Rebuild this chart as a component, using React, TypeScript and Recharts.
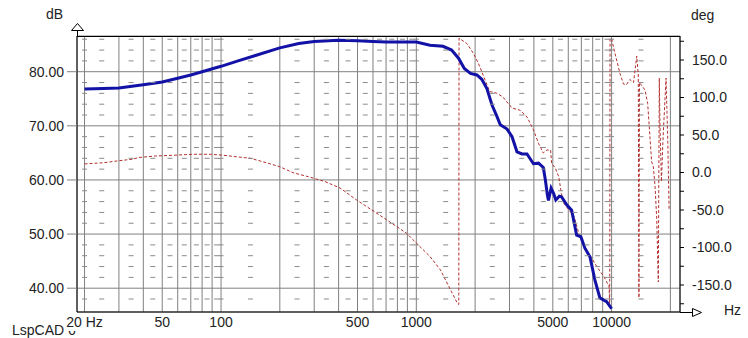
import React from 'react'
import { CartesianGrid, ComposedChart, Line, Scatter, XAxis, YAxis } from 'recharts'

// frequency grid (Hz) and labelled ticks
const gridFreqs = [
  20, 30, 40, 50, 60, 70, 80, 90, 100, 200, 300, 400, 500, 600, 700, 800, 900, 1000,
  2000, 3000, 4000, 5000, 6000, 7000, 8000, 9000, 10000, 20000,
]
const freqLabels: Record<number, string> = {
  20: '20 Hz',
  50: '50',
  100: '100',
  500: '500',
  1000: '1000',
  5000: '5000',
  10000: '10000',
}
const dbTicks = [40, 50, 60, 70, 80]
const degTicks = [-175, -150, -125, -100, -75, -50, -25, 0, 25, 50, 75, 100, 125, 150, 175]
const minorDb = [38, 42, 44, 46, 48, 52, 54, 56, 58, 62, 64, 66, 68, 72, 74, 76, 78, 82, 84, 86]

// SPL magnitude (blue)
const magFreq = [
  20, 25, 30, 35, 40, 50, 60, 70, 80, 100, 120, 150, 200, 250, 300, 400, 500, 600, 700, 800,
  1000, 1175, 1370, 1516, 1645, 1761, 1893, 2041, 2164, 2298, 2438, 2590, 2691, 2915, 3091,
  3277, 3477, 3687, 3979, 4222, 4470, 4580, 4700, 4750, 4900, 5050, 5180, 5400, 5540, 5890,
  6245, 6620, 6960, 7300, 7745, 8215, 8710, 9430, 10000,
]
const magDb = [
  76.8, 76.9, 77.0, 77.3, 77.6, 78.1, 78.8, 79.4, 80.0, 81.0, 81.9, 83.0, 84.4, 85.2, 85.6,
  85.8, 85.7, 85.6, 85.5, 85.5, 85.5, 84.9, 84.7, 84.0, 82.5, 80.6, 79.7, 79.4, 78.6, 76.9,
  73.9, 71.7, 70.2, 69.4, 68.0, 65.2, 64.8, 64.8, 63.0, 63.1, 62.3, 60.0, 57.0, 56.2, 58.5,
  57.5, 56.3, 57.0, 56.9, 55.4, 54.4, 49.8, 49.5, 47.4, 45.8, 41.5, 38.2, 37.5, 36.2,
]

// phase (red dashed)
const phaseFreq = [
  20, 25, 30, 35, 38, 46, 57, 72, 88, 100, 120, 141, 171, 200, 234, 280, 340, 407, 495, 558,
  707, 891, 1000, 1175, 1330, 1500, 1620, 1650, 1655, 1815, 1959, 2075, 2198, 2374, 2565,
  2768, 3091, 3400, 3688, 3979, 4222, 4470, 4663, 4870, 4935, 5150, 5370, 5530, 5690, 6430,
  6870, 7450, 8420, 9140, 9700, 9780, 9820, 10000, 10400, 11040, 11500, 11900, 12400, 12950,
  13450, 13700, 13800, 13900, 14830, 15300, 16040, 16350, 16680, 17020, 17350, 17550, 17700,
  18000, 18300, 19000, 19400, 19700,
]
const phaseDeg = [
  11.5, 13, 15.7, 17.6, 20, 22, 23, 24.3, 24.3, 23.3, 21, 19, 13, 7.7, -0.3, -5.6, -12, -20.7,
  -36.7, -45.6, -63.3, -81, -94, -112, -130, -157, -174, -176, 179, 172, 159, 146, 130, 108,
  106, 101, 86, 83, 74, 57, 39, 26, 30, 30, 12, 6, -6, -28, -41, -59, -86, -103, -126, -139,
  -152, -178, 179, 178, 159, 132, 118, 117, 124, 120, 155, 130, -167, 120, 110, 92, 14, 8, -17,
  -61, -146, 126, 60, -12, 40, 126, 40, -50,
]

const magData = magFreq.map((f, i) => ({ f, db: magDb[i] }))
const phaseData = phaseFreq.map((f, i) => ({ f, deg: phaseDeg[i] }))

// short dashes of the minor grid sit between the frequency lines
const dashFreqs = [20, 100, 1000, 10000]
for (let i = 0; i < gridFreqs.length - 1; i++) {
  dashFreqs.push(Math.sqrt(gridFreqs[i] * gridFreqs[i + 1]))
}
const minorData: { f: number; db: number }[] = []
minorDb.forEach((db) => dashFreqs.forEach((f) => minorData.push({ f, db })))

const font = '"Liberation Sans", Arial, sans-serif'

const FreqTick = ({ x, y, payload }: any) => {
  const label = freqLabels[payload.value]
  if (!label) return null
  return (
    <g>
      {payload.value === 20 && <rect x={x - 18} y={y - 2} width={36} height={16} fill="#fff" />}
      <text x={x} y={y} dy="0.71em" textAnchor="middle" fontSize={14} fill="#222" fontFamily={font}>
        {label}
      </text>
    </g>
  )
}

const MinorDash = ({ cx, cy }: any) => (
  <line x1={cx - 2.5} x2={cx + 2.5} y1={cy} y2={cy} stroke="#8a8a8a" strokeWidth={1} />
)

const label = (text: string, left: number, top: number) => (
  <div
    style={{
      position: 'absolute',
      left,
      top,
      fontFamily: font,
      fontSize: 14,
      color: '#222',
      lineHeight: '16px',
      whiteSpace: 'nowrap',
    }}
  >
    {text}
  </div>
)

export default function App() {
  return (
    <div style={{ position: 'absolute', left: 0, top: 0, width: 748, height: 338, background: '#fff' }}>
      {label('LspCAD 6', 12, 322)}
      <div style={{ position: 'absolute', left: 0, top: 0 }}>
        <ComposedChart
          width={748}
          height={338}
          data={magData}
          margin={{ top: 36, right: 0, bottom: 0, left: 0 }}
        >
          <CartesianGrid yAxisId="left" stroke="#808080" strokeWidth={1} />
          <XAxis
            dataKey="f"
            type="number"
            scale="log"
            domain={[18.3, 22400]}
            allowDataOverflow
            ticks={gridFreqs}
            interval={0}
            height={26}
            tickSize={0}
            tickMargin={5}
            tickLine={false}
            axisLine={{ stroke: '#000' }}
            tick={<FreqTick />}
          />
          <YAxis
            yAxisId="left"
            domain={[35.6, 86.6]}
            allowDataOverflow
            ticks={dbTicks}
            width={77}
            tickSize={10}
            tickMargin={3}
            tickLine={{ stroke: '#808080' }}
            axisLine={{ stroke: '#000' }}
            tickFormatter={(v: number) => v.toFixed(2)}
            tick={{ fontSize: 14, fill: '#222', fontFamily: font }}
          />
          <YAxis
            yAxisId="right"
            orientation="right"
            domain={[-186, 182]}
            allowDataOverflow
            ticks={degTicks}
            interval={0}
            width={68}
            tickSize={4}
            tickMargin={8}
            tickLine={{ stroke: '#000' }}
            axisLine={{ stroke: '#000' }}
            tickFormatter={(v: number) => (v % 50 === 0 ? v.toFixed(1) : '')}
            tick={{ fontSize: 14, fill: '#222', fontFamily: font, textAnchor: 'start' }}
          />
          <Scatter
            yAxisId="left"
            data={minorData}
            dataKey="db"
            shape={<MinorDash />}
            isAnimationActive={false}
            legendType="none"
          />
          <Line
            yAxisId="right"
            data={phaseData}
            dataKey="deg"
            type="linear"
            stroke="#b3302f"
            strokeWidth={1}
            strokeDasharray="3 2"
            dot={false}
            isAnimationActive={false}
          />
          <Line
            yAxisId="left"
            data={magData}
            dataKey="db"
            type="linear"
            stroke="#1212a6"
            strokeWidth={3}
            dot={false}
            isAnimationActive={false}
          />
        </ComposedChart>
      </div>
      <svg
        width={748}
        height={338}
        style={{ position: 'absolute', left: 0, top: 0, pointerEvents: 'none' }}
      >
        <line x1={77} x2={680} y1={36.5} y2={36.5} stroke="#000" />
        <line x1={77.5} x2={77.5} y1={29} y2={36} stroke="#000" />
        <polygon points="71.5,30.5 83.5,30.5 77.5,23.5" fill="#fff" stroke="#000" />
        <line x1={680} x2={692} y1={312.5} y2={312.5} stroke="#000" />
        <polygon points="692.5,308.5 692.5,316.5 701.5,312.5" fill="#fff" stroke="#000" />
      </svg>
      {label('dB', 46, 6)}
      {label('deg', 691, 7)}
      {label('Hz', 724, 302)}
    </div>
  )
}
